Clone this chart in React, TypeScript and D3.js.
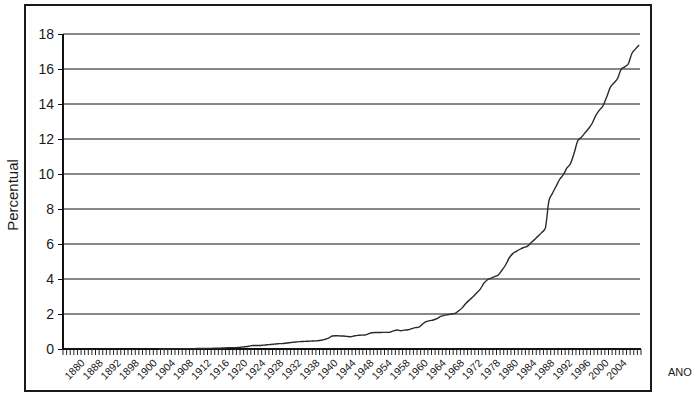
import React, { useEffect, useRef } from "react";
import * as d3 from "d3";

// one value per category (160 points), null where the line has not started yet
const percentValues: (number | null)[] = [
  null, null, null, null, null, null, null, null, null, null,
  null, null, null, null, null, null, null, null, null, null,
  null, null, null, null, null, null,
  0, 0, 0, 0, 0.01, 0.01, 0.01, 0.01, 0.02, 0.02,
  0.02, 0.03, 0.03, 0.03, 0.03, 0.04, 0.05, 0.05, 0.06, 0.07,
  0.08, 0.08, 0.09, 0.11, 0.13, 0.16, 0.2, 0.2, 0.2, 0.22,
  0.24, 0.26, 0.28, 0.3, 0.31, 0.33, 0.36, 0.38, 0.4, 0.42,
  0.43, 0.44, 0.45, 0.46, 0.47, 0.5, 0.55, 0.62, 0.74, 0.76,
  0.75, 0.74, 0.72, 0.7, 0.74, 0.78, 0.79, 0.8, 0.86, 0.93,
  0.94, 0.94, 0.95, 0.95, 0.96, 1.04, 1.09, 1.04, 1.08, 1.1,
  1.16, 1.22, 1.25, 1.42, 1.56, 1.62, 1.66, 1.73, 1.86, 1.92,
  1.96, 2.0, 2.04, 2.18, 2.35, 2.6, 2.8, 2.98, 3.2, 3.42,
  3.76, 3.96, 4.05, 4.14, 4.23, 4.5, 4.8, 5.2, 5.45, 5.58,
  5.7, 5.8, 5.86, 6.06, 6.25, 6.45, 6.65, 6.9, 8.45, 8.9,
  9.3, 9.7, 9.96, 10.35, 10.6, 11.2, 11.9, 12.1, 12.35, 12.6,
  12.9, 13.35, 13.65, 13.9, 14.4, 14.95, 15.2, 15.45, 15.98, 16.12,
  16.3, 16.9, 17.15, 17.37,
];

// labels shown every 5th category (as printed on the original)
const yearLabels = [
  "1880", "1888", "1892", "1898", "1900", "1904", "1908", "1912", "1916", "1920",
  "1924", "1928", "1932", "1938", "1940", "1944", "1948", "1954", "1958", "1960",
  "1964", "1968", "1972", "1978", "1980", "1984", "1988", "1992", "1996", "2000",
  "2004",
];
const labelStep = 5;

const yTicks = [0, 2, 4, 6, 8, 10, 12, 14, 16, 18];

const W = 698;
const H = 396;
const margin = { left: 63, right: 57, top: 34, bottom: 47 };
const FONT = "'Liberation Sans', Arial, sans-serif";

export default function App() {
  const svgRef = useRef<SVGSVGElement>(null);

  useEffect(() => {
    if (!svgRef.current) return;
    const svg = d3.select(svgRef.current);
    svg.selectAll("*").remove();

    const cats = percentValues.map((_, i) => i);
    const x = d3.scaleBand<number>()
      .domain(cats)
      .range([margin.left, W - margin.right])
      .padding(0);
    const y = d3.scaleLinear().domain([0, 18]).range([H - margin.bottom, margin.top]);

    // outer frame
    svg.append("rect")
      .attr("x", 25).attr("y", 5)
      .attr("width", 626).attr("height", 386)
      .attr("fill", "none")
      .attr("stroke", "#1a1a1a")
      .attr("stroke-width", 2);

    // gridlines
    svg.append("g")
      .selectAll("line")
      .data(yTicks.filter(t => t > 0))
      .join("line")
      .attr("x1", margin.left)
      .attr("x2", W - margin.right - 1)
      .attr("y1", d => y(d))
      .attr("y2", d => y(d))
      .attr("stroke", "#111")
      .attr("stroke-width", 1);

    // y axis
    const yAxis = svg.append("g")
      .attr("transform", `translate(${margin.left},0)`)
      .call(d3.axisLeft(y).tickValues(yTicks).tickSize(5).tickPadding(4).tickFormat(d3.format("d")));
    yAxis.select(".domain").attr("stroke", "#111").attr("stroke-width", 2).attr("d", `M0,${y(18)}V${y(0)}`);
    yAxis.selectAll(".tick line").attr("stroke", "#111");
    yAxis.selectAll("text")
      .attr("font-family", FONT)
      .attr("font-size", 14)
      .attr("fill", "#1a1a1a");

    // x axis: a tick at every category boundary, labels every 5th category
    const xAxisG = svg.append("g").attr("transform", `translate(0,${y(0)})`);
    const bw = x.bandwidth();
    xAxisG.selectAll("line.tk")
      .data(cats.concat([cats.length]))
      .join("line")
      .attr("class", "tk")
      .attr("x1", d => margin.left + d * bw)
      .attr("x2", d => margin.left + d * bw)
      .attr("y1", 0)
      .attr("y2", 6)
      .attr("stroke", "#222")
      .attr("stroke-width", 1);
    xAxisG.append("line")
      .attr("x1", margin.left)
      .attr("x2", W - margin.right)
      .attr("y1", 0)
      .attr("y2", 0)
      .attr("stroke", "#111")
      .attr("stroke-width", 2);

    xAxisG.selectAll("text.lbl")
      .data(yearLabels)
      .join("text")
      .attr("class", "lbl")
      .attr("transform", (_, k) => {
        const cx = (x((k + 1) * labelStep) ?? 0) + bw / 2;
        return `translate(${cx},${12}) rotate(-45)`;
      })
      .attr("text-anchor", "end")
      .attr("dy", "0.35em")
      .attr("font-family", FONT)
      .attr("font-size", 10.5)
      .attr("fill", "#1a1a1a")
      .text(d => d);

    // line
    const line = d3.line<number | null>()
      .defined(d => d !== null)
      .x((_, i) => (x(i) ?? 0) + bw / 2)
      .y(d => y(d as number))
      .curve(d3.curveMonotoneX);
    svg.append("path")
      .datum(percentValues)
      .attr("d", line)
      .attr("fill", "none")
      .attr("stroke", "#2a2a2a")
      .attr("stroke-width", 1.4);

    // axis titles
    svg.append("text")
      .attr("transform", `translate(18,${195}) rotate(-90)`)
      .attr("text-anchor", "middle")
      .attr("font-family", FONT)
      .attr("font-size", 15)
      .attr("fill", "#1a1a1a")
      .text("Percentual");

    svg.append("text")
      .attr("x", 668)
      .attr("y", 376)
      .attr("font-family", FONT)
      .attr("font-size", 11)
      .attr("fill", "#1a1a1a")
      .text("ANO");
  }, []);

  return (
    <svg
      ref={svgRef}
      width={W}
      height={H}
      style={{ position: "absolute", left: 0, top: 0, background: "#fff" }}
    />
  );
}
